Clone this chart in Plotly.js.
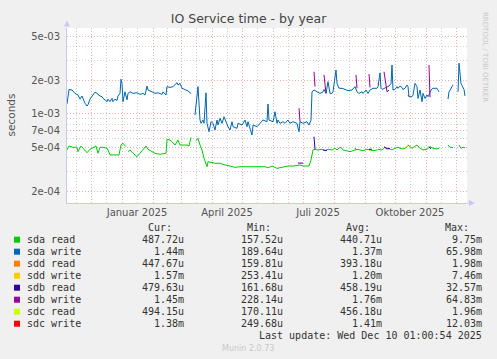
<!DOCTYPE html>
<html>
<head>
<meta charset="utf-8">
<script src="https://cdn.plot.ly/plotly-3.0.1.min.js"></script>
<style>
html,body{margin:0;padding:0;background:#F0F0F0;}
#chart{width:497px;height:359px;}
</style>
</head>
<body>
<div id="chart"></div>
<script>
// ---------------- DATA ----------------
const seriesNames = ['sda read','sda write','sdd read','sdd write','sdb read','sdb write','sdc read','sdc write'];
const seriesColors = ['#00CC00','#0066B3','#FF8000','#FFCC00','#330099','#990099','#CCFF00','#FF0000'];

const sdaReadDates = ['2024-11-07','2024-11-09','2024-11-13','2024-11-17','2024-11-18','2024-11-21','2024-11-23','2024-11-27','2024-11-30','2024-12-03','2024-12-06','2024-12-08','2024-12-10','2024-12-13','2024-12-17','2024-12-18','2024-12-20','2024-12-25','2024-12-29','2024-12-31','2025-01-02','2025-01-05','2025-01-06','2025-01-07','2025-01-09','2025-01-12','2025-01-16','2025-01-19','2025-01-22','2025-01-25','2025-01-27','2025-01-31','2025-02-03','2025-02-08','2025-02-11','2025-02-14','2025-02-15','2025-02-18','2025-02-20','2025-02-23','2025-02-26','2025-02-28','2025-03-03','2025-03-07','2025-03-09','2025-03-11','2025-03-13','2025-03-16','2025-03-18','2025-03-20','2025-03-22','2025-03-24','2025-03-26','2025-03-27','2025-03-28','2025-04-01','2025-04-04','2025-04-09','2025-04-14','2025-04-19','2025-04-24','2025-04-29','2025-05-04','2025-05-09','2025-05-14','2025-05-19','2025-05-24','2025-05-27','2025-05-31','2025-06-05','2025-06-11','2025-06-16','2025-06-21','2025-06-25','2025-06-28','2025-07-01','2025-07-05','2025-07-07','2025-07-09','2025-07-11','2025-07-13','2025-07-16','2025-07-20','2025-07-23','2025-07-26','2025-07-30','2025-08-02','2025-08-04','2025-08-07','2025-08-09','2025-08-10','2025-08-14','2025-08-17','2025-08-20','2025-08-24','2025-08-27','2025-08-30','2025-09-03','2025-09-06','2025-09-09','2025-09-13','2025-09-14','2025-09-18','2025-09-21','2025-09-24','2025-09-28','2025-10-01','2025-10-04','2025-10-08','2025-10-11','2025-10-13','2025-10-14','2025-10-18','2025-10-21','2025-10-23','2025-10-26','2025-10-29','2025-11-02','2025-11-05','2025-11-08','2025-11-12','2025-11-14','2025-11-16','2025-11-23','2025-11-25','2025-11-28','2025-11-30','2025-12-04','2025-12-06','2025-12-08','2025-12-10'];
const sdaRead = [4.70e-4,5.10e-4,4.97e-4,4.97e-4,4.54e-4,5.10e-4,4.87e-4,4.44e-4,4.77e-4,4.97e-4,5.10e-4,4.39e-4,4.97e-4,4.97e-4,4.87e-4,4.70e-4,4.24e-4,4.24e-4,4.24e-4,5.21e-4,5.40e-4,5.03e-4,null,4.54e-4,4.70e-4,4.39e-4,4.09e-4,4.39e-4,4.70e-4,5.10e-4,4.77e-4,4.54e-4,4.39e-4,4.30e-4,4.32e-4,4.39e-4,5.86e-4,5.78e-4,5.58e-4,5.21e-4,5.78e-4,5.21e-4,5.21e-4,5.21e-4,5.10e-4,6.11e-4,null,5.70e-4,5.99e-4,5.21e-4,4.70e-4,3.96e-4,3.57e-4,3.32e-4,3.69e-4,3.61e-4,3.57e-4,3.57e-4,3.44e-4,3.37e-4,3.28e-4,3.32e-4,3.32e-4,3.28e-4,3.32e-4,3.28e-4,3.32e-4,3.25e-4,3.37e-4,3.21e-4,3.32e-4,3.37e-4,3.37e-4,3.42e-4,3.44e-4,3.37e-4,3.37e-4,3.37e-4,3.82e-4,4.70e-4,4.77e-4,4.70e-4,4.77e-4,4.63e-4,4.77e-4,4.70e-4,4.87e-4,4.70e-4,4.97e-4,4.87e-4,4.70e-4,4.63e-4,4.54e-4,4.63e-4,4.77e-4,4.70e-4,4.63e-4,4.77e-4,4.70e-4,4.63e-4,4.70e-4,4.77e-4,4.70e-4,4.97e-4,4.87e-4,4.70e-4,4.87e-4,4.97e-4,4.80e-4,4.87e-4,5.03e-4,5.21e-4,4.87e-4,5.03e-4,5.21e-4,4.87e-4,4.70e-4,4.77e-4,5.03e-4,4.87e-4,4.80e-4,4.87e-4,null,5.21e-4,4.97e-4,4.93e-4,null,5.21e-4,4.87e-4,4.97e-4,4.93e-4];

const sdaWriteDates = ['2024-11-07','2024-11-09','2024-11-12','2024-11-15','2024-11-18','2024-11-20','2024-11-22','2024-11-23','2024-11-25','2024-11-27','2024-11-28','2024-11-30','2024-12-02','2024-12-03','2024-12-05','2024-12-07','2024-12-10','2024-12-12','2024-12-13','2024-12-15','2024-12-17','2024-12-18','2024-12-20','2024-12-22','2024-12-23','2024-12-25','2024-12-27','2024-12-28','2024-12-30','2024-12-31','2025-01-01','2025-01-02','2025-01-04','2025-01-06','2025-01-07','2025-01-09','2025-01-12','2025-01-16','2025-01-19','2025-01-22','2025-01-24','2025-01-26','2025-01-27','2025-01-31','2025-02-03','2025-02-06','2025-02-10','2025-02-11','2025-02-14','2025-02-15','2025-02-18','2025-02-21','2025-02-25','2025-02-26','2025-02-28','2025-03-02','2025-03-05','2025-03-08','2025-03-11','2025-03-13','2025-03-15','2025-03-17','2025-03-18','2025-03-20','2025-03-21','2025-03-23','2025-03-24','2025-03-26','2025-03-27','2025-03-29','2025-03-31','2025-04-02','2025-04-04','2025-04-06','2025-04-07','2025-04-09','2025-04-11','2025-04-13','2025-04-16','2025-04-17','2025-04-19','2025-04-21','2025-04-22','2025-04-26','2025-04-27','2025-05-01','2025-05-04','2025-05-06','2025-05-07','2025-05-11','2025-05-12','2025-05-16','2025-05-19','2025-05-22','2025-05-26','2025-05-27','2025-05-28','2025-05-31','2025-06-01','2025-06-03','2025-06-05','2025-06-06','2025-06-08','2025-06-11','2025-06-13','2025-06-16','2025-06-18','2025-06-21','2025-06-25','2025-06-27','2025-06-28','2025-07-01','2025-07-05','2025-07-07','2025-07-09','2025-07-10','2025-07-12','2025-07-15','2025-07-18','2025-07-21','2025-07-22','2025-07-24','2025-07-26','2025-07-28','2025-07-30','2025-07-31','2025-08-03','2025-08-04','2025-08-06','2025-08-09','2025-08-12','2025-08-15','2025-08-19','2025-08-22','2025-08-24','2025-08-26','2025-08-29','2025-08-30','2025-09-02','2025-09-04','2025-09-06','2025-09-09','2025-09-13','2025-09-14','2025-09-16','2025-09-17','2025-09-18','2025-09-20','2025-09-23','2025-09-25','2025-09-27','2025-09-28','2025-09-29','2025-10-01','2025-10-03','2025-10-04','2025-10-06','2025-10-08','2025-10-09','2025-10-11','2025-10-13','2025-10-14','2025-10-15','2025-10-18','2025-10-19','2025-10-21','2025-10-23','2025-10-24','2025-10-26','2025-10-28','2025-10-29','2025-10-31','2025-11-02','2025-11-03','2025-11-04','2025-11-06','2025-11-08','2025-11-12','2025-11-14','2025-11-16','2025-11-23','2025-11-24','2025-11-27','2025-11-28','2025-11-30','2025-12-03','2025-12-04','2025-12-06','2025-12-07','2025-12-09','2025-12-10'];
const sdaWrite = [1.22e-3,1.65e-3,1.63e-3,1.52e-3,1.47e-3,1.35e-3,1.44e-3,1.37e-3,1.24e-3,1.17e-3,1.20e-3,1.35e-3,1.42e-3,1.47e-3,1.56e-3,1.52e-3,1.44e-3,1.42e-3,1.37e-3,1.33e-3,1.28e-3,1.35e-3,1.28e-3,1.37e-3,1.28e-3,1.35e-3,1.31e-3,1.44e-3,1.52e-3,2.04e-3,1.87e-3,1.28e-3,1.57e-3,1.33e-3,1.52e-3,1.57e-3,1.52e-3,1.54e-3,1.49e-3,1.52e-3,1.47e-3,1.77e-3,1.63e-3,1.57e-3,1.52e-3,1.54e-3,1.49e-3,1.57e-3,1.47e-3,1.75e-3,1.72e-3,1.75e-3,1.90e-3,1.81e-3,1.87e-3,1.69e-3,1.65e-3,1.60e-3,1.52e-3,null,9.71e-4,1.63e-3,1.75e-3,8.75e-4,8.17e-4,8.75e-4,8.17e-4,1.54e-3,8.17e-4,6.86e-4,8.45e-4,8.17e-4,7.11e-4,8.75e-4,7.89e-4,9.07e-4,8.17e-4,9.37e-4,7.89e-4,7.62e-4,7.11e-4,8.45e-4,7.62e-4,7.37e-4,8.17e-4,7.89e-4,8.75e-4,7.62e-4,8.45e-4,6.41e-4,7.89e-4,7.62e-4,8.17e-4,8.75e-4,8.45e-4,1.22e-3,8.75e-4,8.62e-4,8.45e-4,1.04e-3,8.17e-4,8.75e-4,8.17e-4,8.45e-4,8.17e-4,8.75e-4,8.17e-4,8.45e-4,8.17e-4,6.86e-4,8.45e-4,8.17e-4,8.45e-4,7.89e-4,8.75e-4,1.57e-3,1.63e-3,1.57e-3,1.52e-3,1.57e-3,1.65e-3,1.52e-3,1.94e-3,1.52e-3,1.52e-3,1.57e-3,2.47e-3,1.87e-3,1.69e-3,1.69e-3,1.65e-3,1.61e-3,1.63e-3,1.75e-3,1.57e-3,1.52e-3,1.57e-3,1.52e-3,1.63e-3,1.52e-3,1.63e-3,1.69e-3,1.69e-3,1.75e-3,2.33e-3,1.69e-3,1.65e-3,1.69e-3,1.75e-3,1.77e-3,1.87e-3,2.74e-3,1.63e-3,1.65e-3,1.75e-3,1.69e-3,1.77e-3,1.72e-3,1.65e-3,1.69e-3,1.81e-3,1.75e-3,1.42e-3,1.42e-3,1.47e-3,1.87e-3,1.75e-3,1.37e-3,1.63e-3,1.28e-3,1.52e-3,1.37e-3,1.47e-3,1.42e-3,1.47e-3,1.63e-3,1.69e-3,1.69e-3,1.57e-3,null,1.35e-3,1.57e-3,1.75e-3,1.81e-3,null,1.57e-3,2.84e-3,1.87e-3,1.77e-3,1.65e-3,1.44e-3];

const sddReadDates = [];  const sddRead = [];
const sddWriteDates = []; const sddWrite = [];

const sdbReadDates = ['2025-06-26','2025-07-01','2025-07-02','2025-07-12','2025-07-13','2025-07-14','2025-07-21','2025-07-25','2025-07-26','2025-08-22','2025-08-23','2025-08-24','2025-09-05','2025-09-08','2025-09-09','2025-09-20','2025-09-23','2025-09-26','2025-09-27','2025-11-04','2025-11-06'];
const sdbRead = [3.58e-4,3.58e-4,null,6.19e-4,4.77e-4,null,4.70e-4,4.63e-4,null,4.87e-4,4.77e-4,null,4.77e-4,4.77e-4,null,5.03e-4,4.80e-4,4.87e-4,null,5.03e-4,4.80e-4];

const sdbWriteDates = ['2025-06-27','2025-06-28','2025-06-30','2025-07-12','2025-07-13','2025-07-14','2025-07-22','2025-07-24','2025-07-25','2025-08-23','2025-08-24','2025-08-25','2025-09-05','2025-09-06','2025-09-07','2025-09-20','2025-09-23','2025-09-25','2025-09-26','2025-11-04','2025-11-05'];
const sdbWrite = [1.12e-3,8.45e-4,null,2.38e-3,1.75e-3,null,2.23e-3,1.52e-3,null,2.23e-3,1.69e-3,null,2.27e-3,1.72e-3,null,2.38e-3,1.57e-3,1.63e-3,null,2.74e-3,1.40e-3];

const sdcReadDates = ['2025-09-13','2025-09-14','2025-09-15','2025-10-13','2025-10-14'];
const sdcRead = [4.70e-4,4.77e-4,null,5.03e-4,5.29e-4];

const sdcWriteDates = ['2025-09-14','2025-09-15','2025-09-16','2025-10-14','2025-10-15'];
const sdcWrite = [1.87e-3,1.81e-3,null,1.47e-3,1.42e-3];

const statCur = ['487.72u','1.44m','447.67u','1.57m','479.63u','1.45m','494.15u','1.38m'];
const statMin = ['157.52u','189.64u','159.81u','253.41u','161.68u','228.14u','170.11u','249.68u'];
const statAvg = ['440.71u','1.37m','393.18u','1.20m','458.19u','1.76m','456.18u','1.41m'];
const statMax = ['9.75m','65.98m','1.98m','7.46m','32.57m','64.83m','1.96m','12.03m'];
const statHeaders = ['Cur:','Min:','Avg:','Max:'];

const monthStarts = ['2024-12-01','2025-01-01','2025-02-01','2025-03-01','2025-04-01','2025-05-01','2025-06-01','2025-07-01','2025-08-01','2025-09-01','2025-10-01','2025-11-01','2025-12-01'];
const midMonths = ['2024-11-16','2024-12-16','2025-01-16','2025-02-15','2025-03-16','2025-04-16','2025-05-16','2025-06-16','2025-07-16','2025-08-16','2025-09-16','2025-10-16','2025-11-16'];
const midMonthText = ['','','Januar 2025','','','April 2025','','','Juli 2025','','','Oktober 2025',''];
const yTickVals = [2e-4,5e-4,7e-4,1e-3,2e-3,5e-3];
const yTickText = ['2e-04','5e-04','7e-04','1e-03','2e-03','5e-03'];
const yMinorVals = [3e-4,4e-4,6e-4,8e-4,9e-4,3e-3,4e-3];

const titleText = 'IO Service time - by year';
const yTitleText = 'seconds';
const lastUpdate = 'Last update: Wed Dec 10 01:00:54 2025';
const sideText = 'RRDTOOL / TOBI OETIKER';
const footText = 'Munin 2.0.73';

// ---------------- LAYOUT ----------------
const W = 497, H = 359, L = 67, T = 28, PW = 400, PH = 175;
const PB = T + PH;
const px = x => (x - L) / PW;
const py = y => (PB - y) / PH;

const allDates = [sdaReadDates, sdaWriteDates, sddReadDates, sddWriteDates, sdbReadDates, sdbWriteDates, sdcReadDates, sdcWriteDates];
const allVals = [sdaRead, sdaWrite, sddRead, sddWrite, sdbRead, sdbWrite, sdcRead, sdcWrite];

const traces = seriesNames.map((n, i) => ({
  type: 'scatter', mode: 'lines', name: n,
  x: allDates[i], y: allVals[i],
  line: {color: seriesColors[i], width: 1},
  connectgaps: false, hoverinfo: 'skip'
}));

const mono = {family: 'DejaVu Sans Mono', size: 10, color: '#333'};
const annotations = [];
const shapes = [];

annotations.push({xref:'paper', yref:'paper', x: px(10), y: 0.5, text: yTitleText, textangle: -90,
  showarrow:false, font:{family:'DejaVu Sans', size:10.5, color:'#555'}, xanchor:'center', yanchor:'middle'});
annotations.push({xref:'paper', yref:'paper', x: px(485), y: py(57), text: sideText, textangle: 90,
  showarrow:false, font:{family:'DejaVu Sans', size:7, color:'#c8c8c8'}, xanchor:'center', yanchor:'middle'});

const colRight = [185, 284.3, 383.3, 482.7];
const headRight = [173, 272, 371, 470];
const rowY0 = 239.7, rowStep = 12;
statHeaders.forEach((h, j) => annotations.push({xref:'paper', yref:'paper', x: px(headRight[j]), y: py(rowY0 - rowStep),
  text: h, showarrow:false, font: mono, xanchor:'right', yanchor:'middle', borderpad:0}));
const stats = [statCur, statMin, statAvg, statMax];
seriesNames.forEach((n, i) => {
  const yy = rowY0 + i * rowStep;
  shapes.push({type:'rect', xref:'paper', yref:'paper', x0: px(14), x1: px(20), y0: py(yy - 3), y1: py(yy + 3),
    fillcolor: seriesColors[i], line:{width:0}});
  annotations.push({xref:'paper', yref:'paper', x: px(26), y: py(yy), text: n, showarrow:false, font: mono,
    xanchor:'left', yanchor:'middle', borderpad:0});
  stats.forEach((s, j) => annotations.push({xref:'paper', yref:'paper', x: px(colRight[j]), y: py(yy), text: s[i],
    showarrow:false, font: mono, xanchor:'right', yanchor:'middle', borderpad:0}));
});
annotations.push({xref:'paper', yref:'paper', x: px(482.7), y: py(rowY0 + 8 * rowStep), text: lastUpdate,
  showarrow:false, font: mono, xanchor:'right', yanchor:'middle', borderpad:0});
annotations.push({xref:'paper', yref:'paper', x: px(248), y: py(348.3), text: footText,
  showarrow:false, font:{family:'DejaVu Sans', size:8, color:'#c8c8c8'}, xanchor:'center', yanchor:'middle'});

// axis arrows
const axisCol = '#C8C8F8';
shapes.push({type:'path', xref:'paper', yref:'paper', layer:'above',
  path: `M ${px(64)} ${py(26.5)} L ${px(70)} ${py(26.5)} L ${px(67)} ${py(20.5)} Z`, fillcolor: axisCol, line:{width:0}});
shapes.push({type:'path', xref:'paper', yref:'paper', layer:'above',
  path: `M ${px(469)} ${py(200)} L ${px(469)} ${py(206)} L ${px(475)} ${py(203)} Z`, fillcolor: axisCol, line:{width:0}});
shapes.push({type:'line', xref:'paper', yref:'paper', layer:'above', x0: px(467), x1: px(469), y0: 0, y1: 0,
  line:{color: axisCol, width: 1}});

const redGrid = 'rgba(230,110,110,0.55)';
const grayGrid = 'rgba(170,170,170,0.55)';
const tickFont = {family:'DejaVu Sans', size:10, color:'#555'};

const layout = {
  width: W, height: H,
  margin: {l: L, r: W - L - PW, t: T, b: H - PB, pad: 0},
  paper_bgcolor: '#F0F0F0', plot_bgcolor: '#FFFFFF',
  showlegend: false, hovermode: false,
  title: {text: titleText, font: {family:'DejaVu Sans', size:12.5, color:'#444'},
    xref:'container', x: 0.5, xanchor:'center', yref:'container', y: 1 - 19/H, yanchor:'middle'},
  xaxis: {type:'date', range:['2024-11-07','2025-12-12'], tickmode:'array', tickvals: midMonths, ticktext: midMonthText,
    tickfont: tickFont, ticks:'', showgrid:true, gridcolor: grayGrid, griddash:'1px,2px', gridwidth:1,
    minor:{tickmode:'array', tickvals: monthStarts, showgrid:true, gridcolor: redGrid, griddash:'1px,2px', gridwidth:1, ticks:''},
    showline:true, linecolor: axisCol, linewidth:1, zeroline:false, fixedrange:true},
  yaxis: {type:'log', range:[-3.8055, -2.229], tickmode:'array', tickvals: yTickVals, ticktext: yTickText,
    tickfont: tickFont, ticks:'', ticklabelstandoff: 4, showgrid:true, gridcolor: redGrid, griddash:'1px,2px', gridwidth:1,
    minor:{tickmode:'array', tickvals: yMinorVals, showgrid:true, gridcolor: grayGrid, griddash:'1px,2px', gridwidth:1, ticks:''},
    showline:true, linecolor: axisCol, linewidth:1, zeroline:false, fixedrange:true},
  annotations: annotations,
  shapes: shapes
};

Plotly.newPlot('chart', traces, layout, {staticPlot:true, displayModeBar:false});
</script>
</body>
</html>
